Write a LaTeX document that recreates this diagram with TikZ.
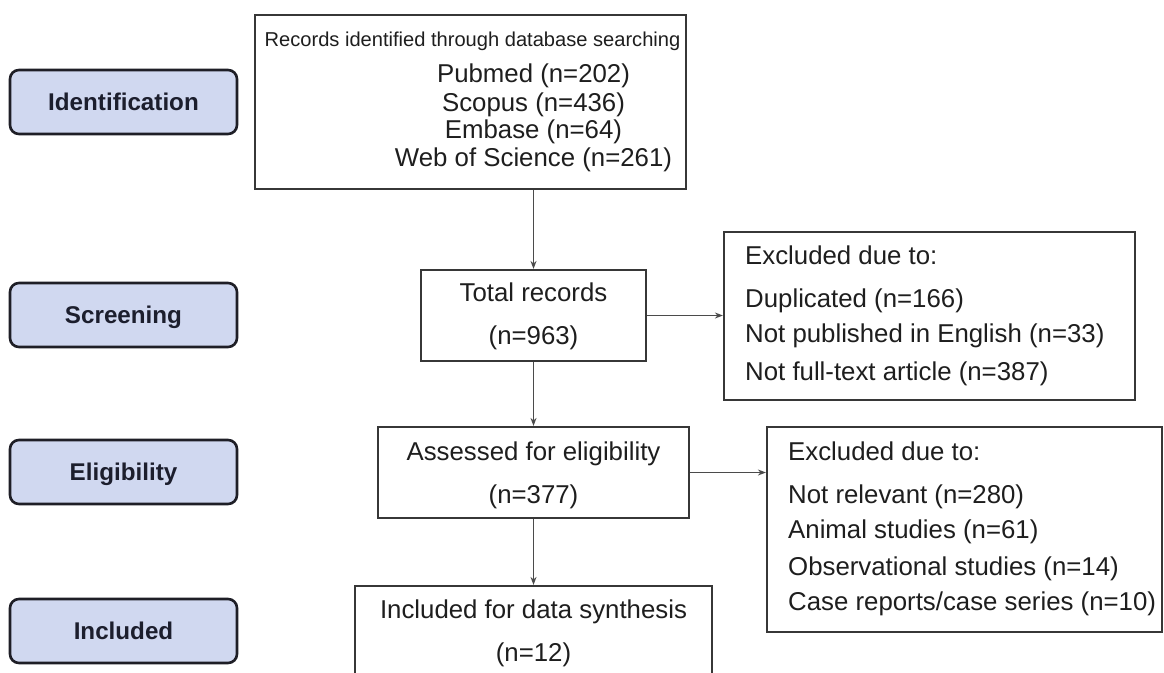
\documentclass[tikz,border=0pt]{standalone}
\usepackage{fontspec}
\setmainfont{Liberation Sans}
\usetikzlibrary{arrows.meta}
\definecolor{phasefill}{RGB}{208,216,240}
\definecolor{phaseline}{RGB}{30,30,38}
\definecolor{phasetext}{RGB}{28,30,45}
\definecolor{boxline}{RGB}{55,55,55}
\definecolor{txt}{RGB}{30,30,30}
\tikzset{
  phase/.style={draw=phaseline, line width=2.6pt, fill=phasefill, rounded corners=9pt,
    minimum width=227pt, minimum height=64pt, inner sep=0pt,
    text height=17.4pt, text depth=0pt,
    text=phasetext, font=\fontsize{24.2}{28}\selectfont\bfseries},
  frame/.style={draw=boxline, line width=2.2pt, inner sep=0pt},
  line/.style={text=txt, font=\fontsize{25.8}{30}\selectfont, inner sep=0pt, anchor=base},
  lline/.style={line, anchor=base west},
  headline/.style={line, font=\fontsize{20.1}{24}\selectfont},
  flow/.style={draw=boxline!90, line width=1.2pt, -{Stealth[length=8pt,width=6pt]}},
}
\begin{document}
\begin{tikzpicture}[x=1pt,y=-1pt]
\useasboundingbox (0,0) rectangle (1164,672);
\fill[white] (0,0) rectangle (1164,672);

% phase labels on the left
\node[phase] (pid) at (123.5,102) {Identification};
\node[phase] (psc) at (123.5,315) {Screening};
\node[phase] (pel) at (123.5,472) {Eligibility};
\node[phase] (pin) at (123.5,631) {Included};

% main flow boxes
\node[frame, minimum width=431pt, minimum height=174pt] (rec) at (470.5,102) {};
\node[frame, minimum width=225pt, minimum height=91pt] (tot) at (533.5,315.5) {};
\node[frame, minimum width=311pt, minimum height=91pt] (ass) at (533.5,472.5) {};
\node[frame, minimum width=357pt, minimum height=120pt] (inc) at (533.5,646) {};

% exclusion boxes
\node[frame, minimum width=411pt, minimum height=168pt] (ex1) at (929.5,316) {};
\node[frame, minimum width=395pt, minimum height=205pt] (ex2) at (964.5,529.5) {};

% texts of the identification box
\node[headline] (r0) at (472.5,46.7) {Records identified through database searching};
\node[line] (r1) at (533.5,82.7) {Pubmed (n=202)};
\node[line] (r2) at (533.5,111) {Scopus (n=436)};
\node[line] (r3) at (533.5,138.5) {Embase (n=64)};
\node[line] (r4) at (533.5,166.7) {Web of Science (n=261)};

% texts of the screening box
\node[line] (t0) at (533.5,301.7) {Total records};
\node[line] (t1) at (533.5,344) {(n=963)};

% texts of the eligibility box
\node[line] (a0) at (533.5,460.7) {Assessed for eligibility};
\node[line] (a1) at (533.5,503.3) {(n=377)};

% texts of the inclusion box
\node[line] (i0) at (533.5,618.3) {Included for data synthesis};
\node[line] (i1) at (533.5,661.7) {(n=12)};

% first exclusion list
\node[lline] (e10) at (745,264.3) {Excluded due to:};
\node[lline] (e11) at (745,307.3) {Duplicated (n=166)};
\node[lline] (e12) at (745,342.3) {Not published in English (n=33)};
\node[lline] (e13) at (745,380) {Not full-text article (n=387)};

% second exclusion list
\node[lline] (e20) at (788,460) {Excluded due to:};
\node[lline] (e21) at (788,503.3) {Not relevant (n=280)};
\node[lline] (e22) at (788,538.3) {Animal studies (n=61)};
\node[lline] (e23) at (788,575) {Observational studies (n=14)};
\node[lline] (e24) at (788,610.7) {Case reports/case series (n=10)};

% connectors
\draw[flow] (rec.south -| tot.north) -- (tot.north);
\draw[flow] (tot.south) -- (ass.north);
\draw[flow] (ass.south) -- (inc.north);
\draw[flow] (tot.east) -- (tot.east -| ex1.west);
\draw[flow] (ass.east) -- (ass.east -| ex2.west);
\end{tikzpicture}
\end{document}
